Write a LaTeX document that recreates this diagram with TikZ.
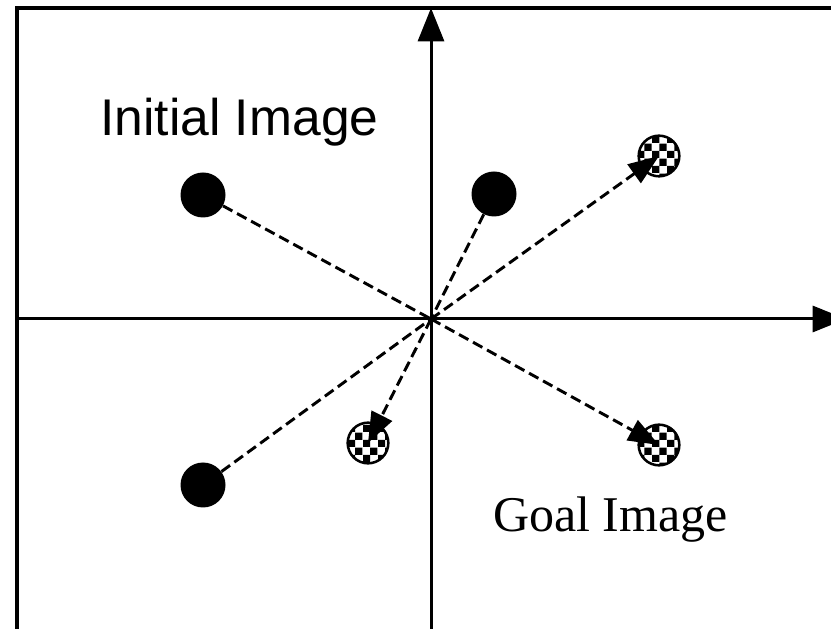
\documentclass[tikz,border=0pt]{standalone}
\usepackage{fontspec}
\setmainfont{Liberation Serif}
\setsansfont{Liberation Sans}
\usetikzlibrary{arrows.meta,patterns}
\tikzset{
  frame/.style={line width=2.6pt,line cap=rect},
  axis/.style={line width=2.25pt,-{Triangle[length=25pt,width=19.5pt]}},
  dot/.style={circle,fill=black,inner sep=0pt,minimum size=33.75pt},
  goal/.style={circle,draw,line width=1.9pt,pattern=checkerboard,inner sep=0pt,minimum size=30.5pt},
  move/.style={dashed,dash pattern=on 8pt off 4pt,line width=2.2pt},
  move arrow/.style={move,-{Triangle[length=23pt,width=17pt]}},
}

\begin{document}
\begin{tikzpicture}[x=0.75pt,y=0.75pt]
  \useasboundingbox (0,0) rectangle (831,628);
  % frame and axes
  \draw[frame] (17,-10) |- (860,620);
  \coordinate (o) at (431,309);
  \draw[axis] (431,-10) -- (431,620);
  \draw[axis] (17,309) -- (846,309);
  % start and goal points
  \node[dot] (i1) at (203,433) {};
  \node[dot] (i2) at (494,434) {};
  \node[dot] (i3) at (203,143) {};
  \node[goal] (g1) at (659,472) {};
  \node[goal] (g2) at (368,185) {};
  \node[goal] (g3) at (659,183) {};
  \foreach \p in {i1,i2,i3} \draw[move] (\p) -- (o);
  \foreach \p in {g1,g2,g3} \draw[move arrow] (o) -- (\p.center);
  % labels
  \node[anchor=base west,inner sep=0pt,font=\sffamily\fontsize{38.7}{40}\selectfont] (initial) at (100,492) {Initial Image};
  \node[anchor=base west,inner sep=0pt,font=\fontsize{37.5}{40}\selectfont] (goallabel) at (493,96) {Goal Image};
\end{tikzpicture}
\end{document}
